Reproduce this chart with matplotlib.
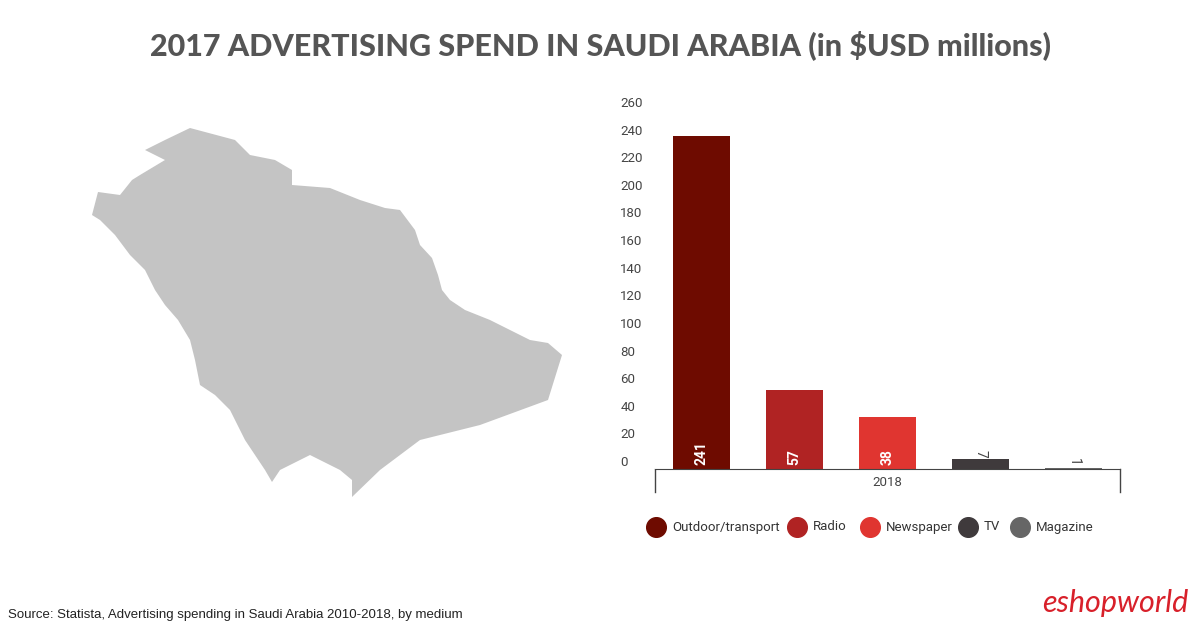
import matplotlib
matplotlib.use("Agg")
import matplotlib.pyplot as plt
from matplotlib.patches import Polygon

categories = ["Outdoor/transport", "Radio", "Newspaper", "TV", "Magazine"]
values = [241, 57, 38, 7, 1]
colors = ["#6e0b00", "#b02323", "#e03530", "#3f3a3c", "#666666"]
yticks = list(range(0, 261, 20))
group_label = "2018"

W, H = 1200, 627
fig = plt.figure(figsize=(12, 6.27), dpi=100)
fig.patch.set_facecolor("white")

fig.text(0.5, 1 - 45 / H, "2017 ADVERTISING SPEND IN SAUDI ARABIA (in $USD millions)",
         ha="center", va="center", fontsize=22, fontweight="heavy", color="#555555", family="Lato")

# map silhouette (pixel outline)
outline = [(190,128),(235,140),(250,155),(275,160),(292,170),(292,185),(330,188),(360,200),(385,208),
           (400,210),(415,230),(420,245),(432,258),(438,275),(442,290),(450,300),(465,310),(490,320),
           (510,330),(530,340),(548,343),(562,355),(548,400),(480,425),(420,440),(380,470),(352,497),
           (352,480),(340,470),(310,455),(280,470),(272,482),(265,470),(245,440),(230,410),(215,395),
           (200,385),(195,360),(190,340),(178,320),(165,305),(155,290),(145,270),(130,255),(115,235),
           (100,220),(92,215),(98,192),(120,195),(132,180),(140,175),(165,160),(145,150),(165,140)]
mapax = fig.add_axes([0, 0, 1, 1]); mapax.set_xlim(0, W); mapax.set_ylim(H, 0); mapax.axis("off")
mapax.add_patch(Polygon(outline, closed=True, facecolor="#c4c4c4", edgecolor="none"))

ax = fig.add_axes([655 / W, (H - 469) / H, 465 / W, 359 / H])
x = list(range(len(values)))
ax.bar(x, values, width=0.61, color=colors)
ax.set_xlim(-0.5, len(values) - 0.5)
ax.set_ylim(0, 260)
for s in ["top", "right", "left"]:
    ax.spines[s].set_visible(False)
ax.spines["bottom"].set_color("#444444")
ax.set_xticks([])
ax.set_yticks(yticks)
ax.set_yticklabels([str(t) for t in yticks], fontsize=9.5, color="#444444", family="Roboto", ha="left")
ax.tick_params(axis="y", length=0, pad=25)
for t in ax.get_yticklabels():
    t.set_va("bottom")
for i, v in enumerate(values):
    if v > 20:
        ax.text(i, 3, str(v), rotation=90, ha="center", va="bottom", color="white",
                fontsize=10, fontweight="bold", family="Roboto")
    else:
        ax.text(i, v + 1, str(v), rotation=270, ha="center", va="bottom", color="#444444",
                fontsize=10, family="Roboto")

for px in (655, 1120):
    mapax.plot([px, px], [469, 492], color="#444444", lw=1)
fig.text(887 / W, 1 - 482 / H, group_label, ha="center", va="center", fontsize=9.5, color="#444444", family="Roboto")

lx = [656, 797, 870, 968, 1020]
for i, (c, name) in enumerate(zip(colors, categories)):
    mapax.scatter([lx[i]], [527], s=200, color=c)
    mapax.text(lx[i] + 16, 527, name, va="center", ha="left", fontsize=9.5, color="#333333", family="Roboto")

fig.text(8 / W, 1 - 615 / H, "Source: Statista, Advertising spending in Saudi Arabia 2010-2018, by medium",
         fontsize=9.5, color="#222222", va="center", family="Liberation Sans")
fig.text(1188 / W, 1 - 603 / H, "eshopworld", ha="right", va="center", fontsize=22,
         color="#d8202a", family="Lato", style="italic")

fig.savefig("out.png", dpi=100)
